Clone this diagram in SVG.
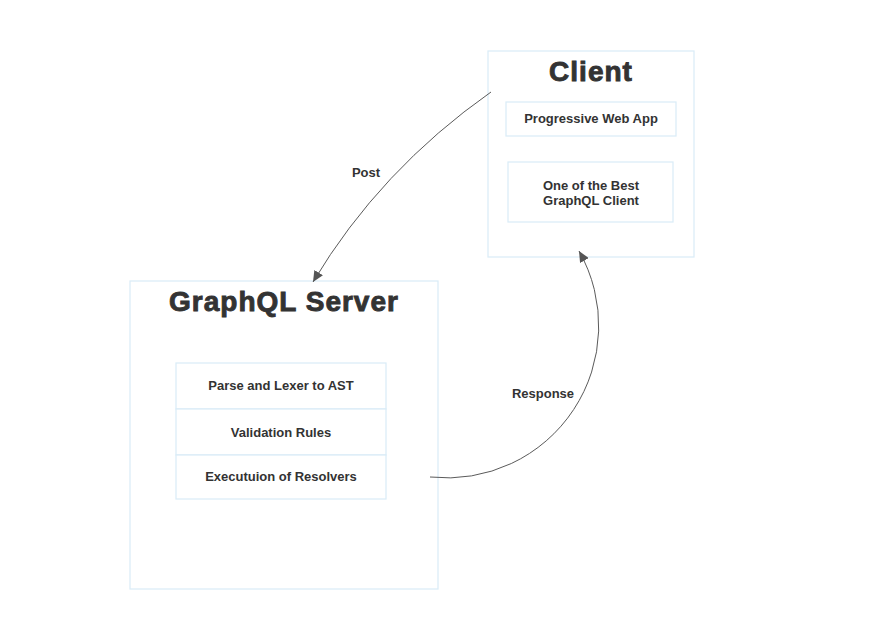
<svg xmlns="http://www.w3.org/2000/svg" width="873" height="634" viewBox="0 0 873 634">
<style>
.box{fill:#ffffff;stroke:#d9ecf7;stroke-width:1.2}
.title{font-family:"Liberation Sans",Arial,sans-serif;font-weight:bold;font-size:28px;fill:#333;stroke:#333;stroke-width:0.9;letter-spacing:1px;text-anchor:middle}
.t{font-family:"Liberation Sans",Arial,sans-serif;font-weight:bold;font-size:13px;fill:#333;text-anchor:middle}
.edge{fill:none;stroke:#5a5a5a;stroke-width:1}
</style>
<defs>
<marker id="arr" markerUnits="userSpaceOnUse" markerWidth="12" markerHeight="10" refX="11" refY="5" orient="auto">
<path d="M0,0 L11,5 L0,10 z" fill="#555"/>
</marker>
</defs>
<rect width="873" height="634" fill="#fff"/>
<g id="client">
<rect class="box" x="488" y="51" width="206" height="206"/>
<text class="title" x="591" y="81">Client</text>
<g id="pwa">
<rect class="box" x="506" y="102" width="170" height="34"/>
<text class="t" x="591" y="123">Progressive Web App</text>
</g>
<g id="best-client">
<rect class="box" x="508" y="162" width="165" height="60"/>
<text class="t" x="591" y="190">One of the Best</text>
<text class="t" x="591" y="205">GraphQL Client</text>
</g>
</g>
<g id="server">
<rect class="box" x="130" y="281" width="308" height="308"/>
<text class="title" x="284" y="311">GraphQL Server</text>
<g id="parse">
<rect class="box" x="176" y="363" width="210" height="46"/>
<text class="t" x="281" y="390">Parse and Lexer to AST</text>
</g>
<g id="validation">
<rect class="box" x="176" y="409" width="210" height="46"/>
<text class="t" x="281" y="437">Validation Rules</text>
</g>
<g id="execution">
<rect class="box" x="176" y="455" width="210" height="44"/>
<text class="t" x="281" y="481">Executuion of Resolvers</text>
</g>
</g>
<g id="connectors">
<path class="edge" d="M491,92 Q380,170 313,282" marker-end="url(#arr)"/>
<text class="t" x="366" y="177">Post</text>
<path class="edge" d="M430,477 A152,152 0 0 0 579,251" marker-end="url(#arr)"/>
<text class="t" x="543" y="398">Response</text>
</g>
</svg>
